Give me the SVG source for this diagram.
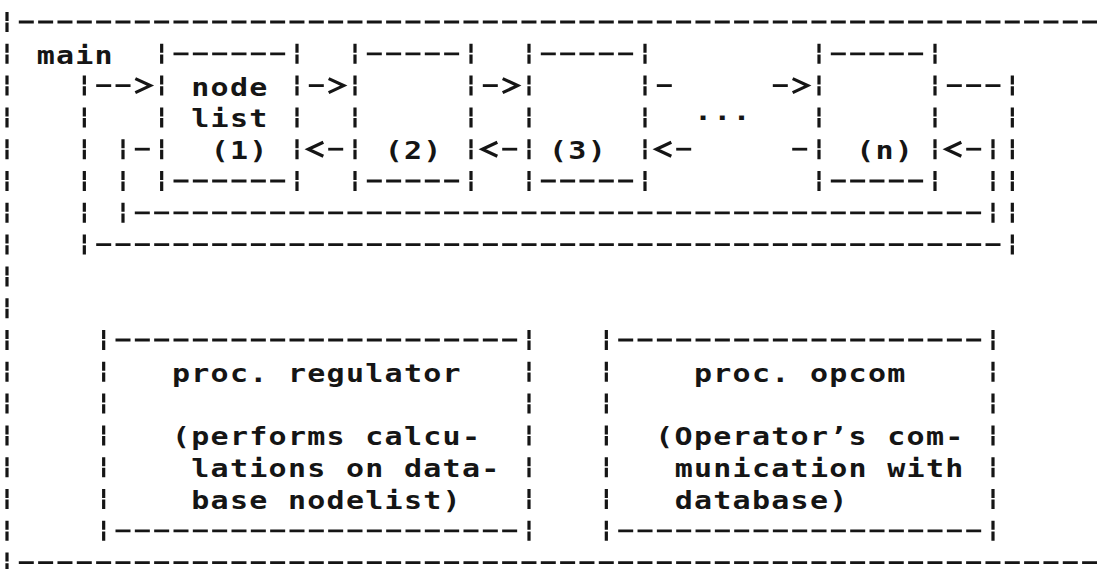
<svg xmlns="http://www.w3.org/2000/svg" xmlns:xlink="http://www.w3.org/1999/xlink" width="1102" height="569" viewBox="0 0 1102 569">
<style>
.hd{fill:none;stroke:#151515;stroke-width:2.8;stroke-dasharray:15 4.333}
.vb{fill:none;stroke:#151515;stroke-width:3.2;stroke-dasharray:9 1.6 9.4 11.8}
.chev{fill:none;stroke:#151515;stroke-width:3.2;stroke-linejoin:miter}
.t{font-family:"DejaVu Sans Mono","Liberation Mono",monospace;font-size:24px;font-weight:bold;letter-spacing:1.02px;fill:#151515}
</style>
<defs>
<path id="chevR" class="chev" d="M-7,-7 L8,0 L-7,7"/>
<path id="chevL" class="chev" d="M7,-7 L-8,0 L7,7"/>
</defs>
<rect width="1102" height="569" fill="#ffffff"/>

<g id="main">
<line class="vb" x1="7" y1="12" x2="7" y2="572.6"/>
<line class="hd" x1="18.8" y1="22" x2="1097" y2="22"/>
<line class="hd" x1="18.8" y1="562.6" x2="1097" y2="562.6"/>
<text class="t" transform="scale(1.25 1)" x="29.31" y="63.8">main</text>
</g>

<g id="node1">
<line class="vb" x1="161.67" y1="43.8" x2="161.67" y2="191"/>
<line class="vb" x1="297" y1="43.8" x2="297" y2="191"/>
<line class="hd" x1="173.5" y1="53.8" x2="285.2" y2="53.8"/>
<line class="hd" x1="173.5" y1="181" x2="285.2" y2="181"/>
<text class="t" transform="scale(1.25 1)" x="153.04" y="95.6">node</text>
<text class="t" transform="scale(1.25 1)" x="153.04" y="127.4">list</text>
<text class="t" transform="scale(1.25 1)" x="168.51" y="159.2">(1)</text>
</g>

<g id="node2">
<line class="vb" x1="355" y1="43.8" x2="355" y2="191"/>
<line class="vb" x1="471" y1="43.8" x2="471" y2="191"/>
<line class="hd" x1="366.8" y1="53.8" x2="459.2" y2="53.8"/>
<line class="hd" x1="366.8" y1="181" x2="459.2" y2="181"/>
<text class="t" transform="scale(1.25 1)" x="307.71" y="159.2">(2)</text>
</g>

<g id="node3">
<line class="vb" x1="529" y1="43.8" x2="529" y2="191"/>
<line class="vb" x1="645" y1="43.8" x2="645" y2="191"/>
<line class="hd" x1="540.8" y1="53.8" x2="633.2" y2="53.8"/>
<line class="hd" x1="540.8" y1="181" x2="633.2" y2="181"/>
<text class="t" transform="scale(1.25 1)" x="439.18" y="159.2">(3)</text>
</g>

<g id="noden">
<line class="vb" x1="819" y1="43.8" x2="819" y2="191"/>
<line class="vb" x1="935" y1="43.8" x2="935" y2="191"/>
<line class="hd" x1="830.8" y1="53.8" x2="923.2" y2="53.8"/>
<line class="hd" x1="830.8" y1="181" x2="923.2" y2="181"/>
<text class="t" transform="scale(1.25 1)" x="684.96" y="159.2">(n)</text>
</g>

<g id="regulator">
<line class="vb" x1="103.67" y1="330" x2="103.67" y2="540.8"/>
<line class="vb" x1="529" y1="330" x2="529" y2="540.8"/>
<line class="hd" x1="115.5" y1="340" x2="517.2" y2="340"/>
<line class="hd" x1="115.5" y1="530.8" x2="517.2" y2="530.8"/>
<text class="t" transform="scale(1.25 1)" x="137.58" y="381.8">proc. regulator</text>
<text class="t" transform="scale(1.25 1)" x="137.58" y="445.4">(performs calcu-</text>
<text class="t" transform="scale(1.25 1)" x="153.04" y="477.2">lations on data-</text>
<text class="t" transform="scale(1.25 1)" x="153.04" y="509">base nodelist)</text>
</g>

<g id="opcom">
<line class="vb" x1="606.33" y1="330" x2="606.33" y2="540.8"/>
<line class="vb" x1="993" y1="330" x2="993" y2="540.8"/>
<line class="hd" x1="618.2" y1="340" x2="981.2" y2="340"/>
<line class="hd" x1="618.2" y1="530.8" x2="981.2" y2="530.8"/>
<text class="t" transform="scale(1.25 1)" x="555.18" y="381.8">proc. opcom</text>
<text class="t" transform="scale(1.25 1)" x="524.24" y="445.4">(Operator’s com-</text>
<text class="t" transform="scale(1.25 1)" x="539.71" y="477.2">munication with</text>
<text class="t" transform="scale(1.25 1)" x="539.71" y="509">database)</text>
</g>

<g id="connectors">
<g id="head-loop">
<line class="hd" x1="946.8" y1="85.6" x2="1000.5" y2="85.6"/>
<line class="vb" x1="1012.33" y1="75.6" x2="1012.33" y2="254.6"/>
<line class="hd" x1="96.2" y1="244.6" x2="1000.5" y2="244.6"/>
<line class="vb" x1="84.33" y1="75.6" x2="84.33" y2="254.6"/>
<line class="hd" x1="96.2" y1="85.6" x2="131.2" y2="85.6"/>
<use xlink:href="#chevR" x="142.33" y="85.6"/>
</g>
<g id="tail-loop">
<line class="hd" x1="134.8" y1="149.2" x2="149.8" y2="149.2"/>
<line class="vb" x1="123" y1="139.2" x2="123" y2="222.8"/>
<line class="hd" x1="134.8" y1="212.8" x2="981.2" y2="212.8"/>
<line class="vb" x1="993" y1="139.2" x2="993" y2="222.8"/>
<line class="hd" x1="966.2" y1="149.2" x2="981.2" y2="149.2"/>
<use xlink:href="#chevL" x="954.33" y="149.2"/>
</g>
<g id="next-links">
<line class="hd" x1="308.8" y1="85.6" x2="323.8" y2="85.6"/>
<use xlink:href="#chevR" x="335.67" y="85.6"/>
<line class="hd" x1="482.8" y1="85.6" x2="497.8" y2="85.6"/>
<use xlink:href="#chevR" x="509.67" y="85.6"/>
<line class="hd" x1="656.8" y1="85.6" x2="671.8" y2="85.6"/>
<line class="hd" x1="772.8" y1="85.6" x2="787.8" y2="85.6"/>
<use xlink:href="#chevR" x="799.67" y="85.6"/>
</g>
<g id="prev-links">
<use xlink:href="#chevL" x="316.33" y="149.2"/>
<line class="hd" x1="328.2" y1="149.2" x2="343.2" y2="149.2"/>
<use xlink:href="#chevL" x="490.33" y="149.2"/>
<line class="hd" x1="502.2" y1="149.2" x2="517.2" y2="149.2"/>
<use xlink:href="#chevL" x="664.33" y="149.2"/>
<line class="hd" x1="676.2" y1="149.2" x2="691.2" y2="149.2"/>
<line class="hd" x1="792.2" y1="149.2" x2="807.2" y2="149.2"/>
</g>
<text class="t" transform="scale(1.25 1)" x="555.18" y="120.3">...</text>
</g>
</svg>
